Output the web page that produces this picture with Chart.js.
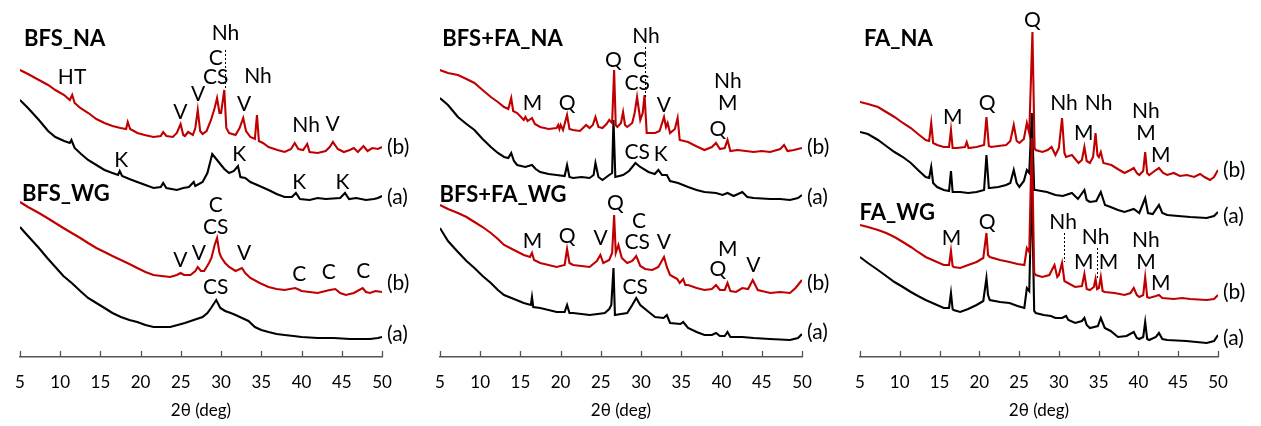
<!DOCTYPE html>
<html>
<head>
<meta charset="utf-8">
<script src="https://cdn.jsdelivr.net/npm/chart.js@4.4.1/dist/chart.umd.min.js"></script>
<style>
  html, body { margin: 0; padding: 0; background: #fff; }
  #wrap { position: relative; width: 1261px; height: 426px; overflow: hidden; }
  canvas { position: absolute; top: 0; }
</style>
</head>
<body>
<div id="wrap">
  <canvas id="panel-bfs" width="420" height="426" style="left:0px"></canvas>
  <canvas id="panel-mix" width="420" height="426" style="left:420px"></canvas>
  <canvas id="panel-fa" width="421" height="426" style="left:840px"></canvas>
</div>
<script>
const RED = '#c00000';
const BLACK = '#000000';
const AXIS_COLOR = '#555555';

const xTicks = [5, 10, 15, 20, 25, 30, 35, 40, 45, 50];

// Patterns as [2θ, intensity (a.u., offset already applied)]
const bfsNaB = [[5,283],[6,279],[7.36,273],[8.5,268],[9.4,263],[10.5,258],[11.2,253],[11.5,258],[11.8,250],[12.5,245],[13.5,240],[14.5,234],[15.5,230],[16.5,227],[17.5,225],[18.2,224],[18.4,231],[18.7,224],[19.6,220],[20.5,218],[21.6,216],[22.5,217],[22.8,221],[23.2,217],[24,216],[24.5,220],[24.97,229],[25.3,218],[25.5,217],[25.9,221],[26.5,218],[26.8,225],[27.1,243],[27.4,222],[27.7,219],[28.2,222],[28.75,233],[29.2,245],[29.5,255],[29.8,240],[30.0,240],[30.4,263],[30.65,225],[31.0,220],[31.8,218],[32.3,225],[32.75,235],[33.1,222],[33.64,216],[34.2,214],[34.46,238],[34.7,212],[35.2,210],[35.9,206],[37,203],[37.9,201],[38.7,204],[39.15,210],[39.6,204],[40.2,203],[40.7,209],[41,201],[42,200],[43,202],[43.5,206],[43.9,211],[44.5,204],[45.26,201],[46,203],[46.5,205],[47,201],[47.7,207],[48.2,202],[48.8,205],[49.5,204],[50,206]];
const bfsNaA = [[5,253],[6,245],[7.36,233],[8.5,222],[9.4,216],[10.5,212],[11.2,210],[11.4,213],[11.8,205],[12.6,199],[13.47,193],[14.5,188],[15.51,183],[16.5,180],[17.2,178],[17.4,182],[17.7,177],[18.6,174],[19.58,171],[20.6,168],[21.6,165],[22.5,166],[22.8,170],[23.2,165],[24.5,163],[25.3,165],[26,166],[26.6,171],[26.8,167],[27.7,171],[28.3,180],[28.9,199],[29.3,195],[29.8,190],[30.4,184],[31.0,180],[31.6,182],[32.1,187],[32.4,176],[33,175],[33.64,171],[34.5,168],[35.9,163],[36.9,159],[37.9,156],[38.8,156],[39.3,160],[39.8,154],[41,153],[42,155],[43,154],[44.8,155],[45.4,160],[45.9,154],[46.8,155],[48,153],[49,154],[49.5,155],[50,157]];
const bfsWgB = [[5,151],[6,146],[7.36,140],[8.4,135],[9.4,130],[10.4,125],[11.44,120],[12.5,115],[13.47,110],[14.5,105],[15.51,101],[16.5,97],[17.55,93],[18.6,89],[19.58,85],[20.6,81],[21.6,78],[22.6,77],[23.67,76],[24.5,78],[24.97,80],[25.4,78],[26.2,78],[26.8,82],[27.1,86],[27.5,82],[27.9,82],[28.5,90],[28.8,95],[29.2,108],[29.5,115],[29.8,100],[30.0,96],[30.5,90],[31.0,86],[31.8,82],[32.6,85],[33.0,80],[33.64,75],[34.8,70],[35.9,66],[36.9,64],[37.9,63],[39.2,65],[39.5,64],[40,62],[41,61],[42,60],[43.5,63],[44.2,64],[44.8,60],[45.5,58],[46.5,60],[47.6,65],[48,61],[48.5,60],[49.2,62],[50,61]];
const bfsWgA = [[5,126],[6,117],[7.36,105],[8.4,95],[9.4,86],[10.4,77],[11.44,70],[12.5,62],[13.47,55],[14.5,50],[15.51,45],[16.5,40],[17.55,36],[18.6,33],[19.58,31],[20.6,28],[21.6,26],[22.6,26],[23.67,26],[24.6,28],[25.5,30],[26.6,33],[27.7,36],[28.3,40],[28.75,45],[29.4,53],[29.9,45],[30.5,42],[31.2,40],[31.8,38],[32.6,35],[33.4,32],[34.2,26],[35,23],[35.9,21],[36.9,19],[37.9,18],[39,17],[40,16],[42,15],[44,15],[46,14],[48.5,14],[49.5,15],[50,16]];

const mixNaB = [[5,283],[6,280],[7.24,278],[8.3,274],[9.29,270],[10.3,263],[11.33,256],[12.2,251],[12.97,246],[13.5,244],[13.86,255],[14.1,242],[14.6,240],[15.42,233],[15.62,236],[15.9,232],[16.44,235],[16.8,229],[17.46,226],[18.5,224],[19.5,225],[19.7,228],[19.85,224],[20.0,228],[20.3,223],[20.8,238],[21.1,224],[21.54,223],[22.4,222],[23.17,228],[23.6,225],[24.0,228],[24.33,236],[24.7,226],[25.2,225],[25.7,229],[26.04,233],[26.4,230],[26.65,283],[26.85,228],[27.06,226],[27.5,230],[27.76,241],[28.0,228],[28.28,226],[28.9,230],[29.2,240],[29.5,256],[29.9,233],[30.2,240],[30.43,258],[30.7,220],[30.92,220],[31.74,220],[32.3,222],[32.85,236],[33.1,226],[33.3,230],[33.6,220],[34.2,224],[34.54,235],[34.8,213],[35.84,211],[36.8,207],[37.88,203],[38.8,206],[39.31,210],[39.8,204],[40.4,205],[40.74,213],[41.1,202],[42,203],[43,202],[44,201],[45,202],[46.05,201],[47.3,204],[47.77,208],[48.2,202],[49,203],[50,205]];
const mixNaA = [[5,255],[6,248],[7.24,236],[8.3,229],[9.29,223],[10.3,214],[11.33,206],[12.2,200],[12.97,196],[13.5,195],[13.86,200],[14.2,192],[14.6,188],[15.6,186],[16.44,188],[16.9,184],[17.46,181],[18.5,179],[19.5,178],[20.5,177],[20.8,188],[21.1,176],[21.54,175],[22.6,176],[23.6,175],[24.1,178],[24.33,190],[24.7,176],[25.2,173],[26.04,178],[26.4,180],[26.57,233],[26.8,176],[27.76,178],[28.5,182],[29.3,190],[29.9,186],[30.92,181],[31.7,179],[32.15,183],[32.6,178],[33.2,178],[33.6,172],[34.6,170],[35.84,166],[36.9,163],[37.88,161],[39.31,160],[40.13,158],[40.74,160],[41.5,157],[42.58,161],[43.2,156],[44,155],[46.05,154],[47.3,154],[48.5,153],[49.5,155],[50,158]];
const mixWgB = [[5,148],[6,144],[7.24,140],[8.3,136],[9.29,131],[10.3,126],[11.33,120],[12.2,114],[12.97,108],[14.2,103],[15.42,98],[16.2,96],[16.44,100],[16.7,93],[17.46,90],[18.5,88],[19.5,86],[20.5,88],[20.8,104],[21.1,90],[21.54,88],[22.6,87],[23.6,86],[24.5,92],[24.94,98],[25.3,90],[26.04,93],[26.4,100],[26.65,138],[26.85,100],[27.18,108],[27.6,95],[28.28,90],[28.9,92],[29.4,97],[29.9,87],[30.5,84],[31.4,83],[32.15,86],[32.85,96],[33.2,86],[33.6,78],[34.5,74],[34.8,70],[35.23,74],[35.5,68],[35.84,68],[36.9,65],[37.88,63],[38.8,64],[39.31,68],[39.8,63],[40.4,63],[40.74,70],[41.1,62],[41.8,61],[42.58,65],[43.3,64],[43.88,73],[44.5,63],[45,62],[46.05,60],[47.3,61],[48.5,60],[49.2,65],[50,73]];
const mixWgA = [[5,125],[6,112],[7.24,101],[8.3,92],[9.29,85],[10.3,77],[11.33,70],[12.2,63],[12.97,58],[14.2,54],[15.42,50],[16.3,48],[16.44,56],[16.6,46],[17.46,45],[18.5,43],[19.5,41],[20.5,41],[20.8,48],[21.1,40],[21.54,40],[22.6,39],[23.6,38],[24.6,39],[25.5,40],[26.04,44],[26.3,48],[26.57,85],[26.75,38],[27.5,39],[28.28,40],[28.9,48],[29.4,55],[29.9,48],[30.8,42],[31.74,36],[32.8,35],[33.2,38],[33.6,30],[34.9,29],[35.23,31],[35.84,25],[36.9,21],[37.88,18],[38.8,18],[39.31,20],[39.8,17],[40.4,17],[40.74,21],[41.1,16],[42.58,16],[44,15],[46,14],[48.5,13],[49.5,15],[50,19]];

const faNaB = [[5,251],[6,249],[7.27,246],[8.3,241],[9.34,236],[10.4,230],[11.4,225],[12.3,219],[13.26,213],[13.7,212],[13.96,230],[14.2,210],[14.7,208],[15.53,206],[16.2,206],[16.44,223],[16.65,205],[17.18,205],[18.2,206],[18.42,211],[18.65,205],[19.66,206],[20.6,208],[20.9,236],[21.2,207],[21.5,206],[22.4,207],[23.38,208],[23.9,212],[24.33,228],[24.7,212],[25.04,210],[25.6,214],[25.98,230],[26.28,220],[26.68,321],[26.95,205],[27.09,203],[27.92,201],[28.6,203],[29.08,206],[29.57,198],[30.0,205],[30.4,235],[30.7,200],[30.9,196],[31.64,198],[32.47,190],[32.9,193],[33.21,206],[33.5,192],[33.9,190],[34.3,196],[34.61,220],[34.85,198],[35.03,196],[35.27,201],[35.6,190],[36.6,188],[37.4,184],[38.25,180],[39.0,183],[39.41,185],[39.8,180],[40.11,178],[40.6,182],[40.85,201],[41.1,180],[41.35,178],[42.2,183],[42.58,185],[43.1,180],[43.62,178],[44.45,180],[45.2,177],[46.1,178],[47,176],[47.75,179],[48.3,176],[48.99,173],[49.5,176],[50,183]];
const faNaA = [[5,221],[6,219],[7.27,213],[8.3,207],[9.34,201],[10.4,196],[11.4,190],[12.3,183],[13.26,176],[13.7,175],[13.96,186],[14.2,170],[14.7,166],[15.53,163],[16.2,162],[16.44,182],[16.65,161],[17.6,161],[18.6,160],[19.66,161],[20.6,163],[20.9,198],[21.2,165],[21.32,165],[22.4,166],[23.38,168],[23.9,170],[24.33,183],[24.7,170],[25.04,166],[25.6,172],[25.98,183],[26.28,180],[26.6,240],[26.9,163],[27.09,163],[28.5,161],[29.57,158],[30.5,157],[31.64,160],[32.4,154],[33.21,163],[33.5,153],[33.9,151],[34.7,152],[35.27,161],[35.8,148],[36.5,146],[37.43,143],[38.25,141],[39.41,144],[40.11,140],[40.85,155],[41.2,140],[41.8,139],[42.58,148],[43.0,140],[43.62,138],[45,137],[46.5,136],[48.57,135],[49.5,137],[50,141]];
const faWgB = [[5,128],[6,126],[7.27,123],[8.3,120],[9.34,116],[10.4,111],[11.4,106],[12.3,101],[13.26,96],[14.4,92],[15.53,88],[16.2,88],[16.44,102],[16.65,87],[16.77,86],[17.6,85],[18.6,88],[19.66,91],[20.5,95],[20.9,120],[21.1,98],[21.32,96],[22.6,93],[23.8,91],[24.8,89],[25.66,88],[25.98,105],[26.28,101],[26.6,215],[26.9,80],[27.09,78],[27.92,76],[28.8,78],[29.45,88],[29.8,76],[30.0,78],[30.4,90],[30.7,72],[30.9,71],[32.05,66],[32.9,67],[33.21,79],[33.5,64],[33.9,63],[34.4,66],[34.61,74],[34.8,64],[35.03,65],[35.27,76],[35.5,62],[35.77,61],[37.0,60],[38.25,58],[39.0,60],[39.41,65],[39.8,58],[40.11,56],[40.6,58],[40.85,76],[41.1,56],[41.35,55],[42.2,57],[42.58,58],[43.0,55],[44.45,54],[45.5,55],[46.5,54],[48.57,53],[49.5,54],[50,58]];
const faWgA = [[5,96],[6,90],[7.27,83],[8.3,77],[9.34,71],[10.4,66],[11.4,61],[12.3,57],[13.26,53],[14.4,49],[15.53,45],[16.2,45],[16.44,60],[16.65,44],[16.77,43],[17.6,41],[18.6,44],[19.66,48],[20.5,52],[20.9,75],[21.1,58],[21.32,53],[22.6,51],[23.8,50],[24.8,47],[25.66,45],[25.98,65],[26.28,62],[26.6,170],[26.9,42],[27.09,40],[28.1,38],[29.0,37],[29.57,35],[30.4,35],[30.9,37],[31.2,33],[32.05,30],[32.9,32],[33.21,35],[33.5,28],[33.9,25],[34.9,27],[35.27,35],[35.77,25],[36.51,22],[37.43,16],[38.5,17],[39.41,21],[39.8,15],[40.11,14],[40.6,16],[40.85,31],[41.1,14],[41.35,13],[42.2,16],[42.58,20],[43.0,14],[43.62,13],[46,12],[48.57,10],[49.5,12],[50,18]];

// Phase labels: [text, 2θ, intensity]
const bfsPeaks = [['HT',11.48,276],['V',24.93,241],['V',27.13,259],['CS',29.33,276],['C',29.33,295],['Nh',30.55,320],['Nh',34.58,277],['V',32.87,249],['Nh',40.57,228],['V',43.87,229],['K',17.59,193],['K',32.26,199],['K',39.72,171],['K',45.1,171],['C',29.33,148],['CS',29.33,126],['V',24.93,93],['V',27.25,100],['V',32.87,100],['C',39.72,79],['C',43.39,81],['C',47.67,82],['CS',29.33,66]];
const mixPeaks = [['M',16.52,250],['Q',20.81,250],['Q',26.57,293],['C',29.88,293],['CS',29.51,270],['Nh',30.61,317],['V',32.82,248],['Nh',40.78,272],['M',40.78,250],['Q',39.56,224],['CS',29.51,201],['K',32.45,199],['M',16.52,112],['Q',20.81,117],['V',24.98,115],['Q',26.81,150],['C',29.75,132],['CS',29.51,111],['V',32.82,111],['M',40.78,104],['Q',39.56,84],['V',43.97,88],['CS',29.26,66]];
const faPeaks = [['Q',26.69,333],['M',16.65,236],['Q',20.99,250],['Nh',30.65,250],['Nh',34.99,250],['M',33.13,220],['Nh',40.94,242],['M',40.94,220],['M',42.79,198],['M',16.52,115],['Q',20.99,131],['Nh',30.53,131],['M',33.13,91],['Nh',34.62,116],['M',36.23,91],['Nh',40.94,113],['M',40.94,91],['M',42.79,70]];

// Dashed leaders: [2θ, top, bottom]
const bfsLeaders = [[30.43,303,263]];
const mixLeaders = [[30.43,306,256]];
const faLeaders = [[30.65,120,91],[34.74,105,75]];

const bfsTitles = [['BFS_NA',5.5,314],['BFS_WG',5.25,159]];
const mixTitles = [['BFS+FA_NA',5.3,314],['BFS+FA_WG',4.95,158]];
const faTitles = [['FA_NA',5.5,314],['FA_WG',4.95,140]];

const bfsTags = [['(b)',206],['(a)',156],['(b)',70],['(a)',19]];
const mixTags = [['(b)',206],['(a)',156],['(b)',70],['(a)',21]];
const faTags = [['(b)',183],['(a)',137],['(b)',61],['(a)',15]];

const FONT = 'Lato';

function decorations(panel) {
    return {
        id: 'decorations',
        afterDraw(chart) {
            const { ctx, chartArea, scales: { x, y } } = chart;
            ctx.save();

            // tick marks point up into the plot
            ctx.strokeStyle = AXIS_COLOR;
            ctx.lineWidth = 1.3;
            xTicks.forEach(v => {
                const px = Math.round(x.getPixelForValue(v)) + 0.5;
                ctx.beginPath();
                ctx.moveTo(px, chartArea.bottom);
                ctx.lineTo(px, chartArea.bottom - 6);
                ctx.stroke();
            });

            ctx.strokeStyle = '#000';
            ctx.lineWidth = 1;
            ctx.setLineDash([2, 2]);
            panel.leaders.forEach(([deg, top, bottom]) => {
                const px = Math.round(x.getPixelForValue(deg)) + 0.5;
                ctx.beginPath();
                ctx.moveTo(px, y.getPixelForValue(top));
                ctx.lineTo(px, y.getPixelForValue(bottom));
                ctx.stroke();
            });
            ctx.setLineDash([]);

            ctx.fillStyle = '#000';
            ctx.textBaseline = 'middle';
            ctx.textAlign = 'center';
            ctx.font = `21px ${FONT}`;
            panel.peaks.forEach(([t, deg, h]) => {
                ctx.fillText(t, x.getPixelForValue(deg), y.getPixelForValue(h));
            });

            ctx.textAlign = 'left';
            ctx.font = `bold 22px ${FONT}`;
            panel.titles.forEach(([t, deg, h]) => {
                ctx.fillText(t, x.getPixelForValue(deg), y.getPixelForValue(h));
            });

            ctx.font = `21px ${FONT}`;
            panel.tags.forEach(([t, h]) => {
                ctx.fillText(t, chartArea.right + 5, y.getPixelForValue(h));
            });
            ctx.restore();
        }
    };
}

function toPoints(arr) {
    return arr.map(p => ({ x: p[0], y: p[1] }));
}

function buildPanel(canvasId, panel) {
    const series = [
        { data: panel.naB, color: RED },
        { data: panel.wgB, color: RED },
        { data: panel.naA, color: BLACK },
        { data: panel.wgA, color: BLACK }
    ];
    return new Chart(document.getElementById(canvasId), {
        type: 'line',
        data: {
            datasets: series.map(s => ({
                data: toPoints(s.data),
                borderColor: s.color,
                borderWidth: 2.1,
                pointRadius: 0,
                tension: 0,
                order: s.color === RED ? 0 : 1
            }))
        },
        options: {
            responsive: false,
            animation: false,
            events: [],
            layout: { padding: { left: panel.padLeft, right: panel.padRight, top: 0, bottom: 0 } },
            plugins: {
                legend: { display: false },
                tooltip: { enabled: false }
            },
            scales: {
                x: {
                    type: 'linear',
                    min: 5,
                    max: 50,
                    afterBuildTicks: (scale) => { scale.ticks = xTicks.map(v => ({ value: v })); },
                    afterFit: (scale) => { scale.height = 69; },
                    ticks: {
                        color: '#000',
                        font: { family: FONT, size: 17 },
                        padding: 15,
                        maxRotation: 0
                    },
                    grid: { display: false, drawTicks: false },
                    border: { display: true, color: AXIS_COLOR, width: 1.4 },
                    title: {
                        display: true,
                        text: '2θ (deg)',
                        color: '#000',
                        font: { family: FONT, size: 17 },
                        padding: { top: 0, bottom: 5 }
                    }
                },
                y: {
                    display: false,
                    min: -4,
                    max: 353
                }
            }
        },
        plugins: [decorations(panel)]
    });
}

function init() {
    buildPanel('panel-bfs', {
        naB: bfsNaB, naA: bfsNaA, wgB: bfsWgB, wgA: bfsWgA,
        peaks: bfsPeaks, leaders: bfsLeaders, titles: bfsTitles, tags: bfsTags,
        padLeft: 14, padRight: 38
    });
    buildPanel('panel-mix', {
        naB: mixNaB, naA: mixNaA, wgB: mixWgB, wgA: mixWgA,
        peaks: mixPeaks, leaders: mixLeaders, titles: mixTitles, tags: mixTags,
        padLeft: 15, padRight: 38
    });
    buildPanel('panel-fa', {
        naB: faNaB, naA: faNaA, wgB: faWgB, wgA: faWgA,
        peaks: faPeaks, leaders: faLeaders, titles: faTitles, tags: faTags,
        padLeft: 15, padRight: 43
    });
}

Promise.all([
    document.fonts.load(`21px ${FONT}`),
    document.fonts.load(`bold 22px ${FONT}`)
]).then(init, init);
</script>
</body>
</html>
